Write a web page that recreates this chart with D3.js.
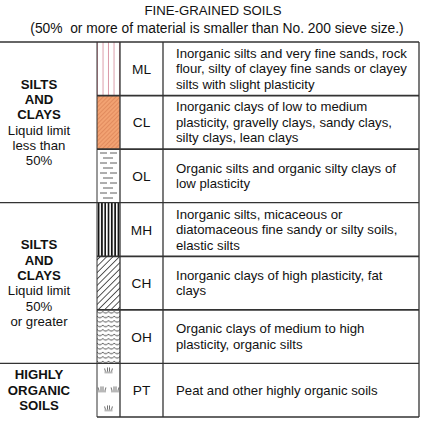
<!DOCTYPE html>
<html><head><meta charset="utf-8">
<script src="https://cdn.jsdelivr.net/npm/d3@7"></script>
<style>body{margin:0;background:#fff}svg{font-family:Arial,"Liberation Sans",sans-serif}text{white-space:pre}</style>
</head><body><svg id="c" width="426" height="423"></svg>
<script>
const title = "FINE-GRAINED SOILS";
const subtitle = "(50%  or more of material is smaller than No. 200 sieve size.)";
const codes = ["ML","CL","OL","MH","CH","OH","PT"];
const descriptions = [
  ["Inorganic silts and very fine sands, rock","flour, silty of clayey fine sands or clayey","silts with slight plasticity"],
  ["Inorganic clays of low to medium","plasticity, gravelly clays, sandy clays,","silty clays, lean clays"],
  ["Organic silts and organic silty clays of","low plasticity"],
  ["Inorganic silts, micaceous or","diatomaceous fine sandy or silty soils,","elastic silts"],
  ["Inorganic clays of high plasticity, fat","clays"],
  ["Organic clays of medium to high","plasticity, organic silts"],
  ["Peat and other highly organic soils"]
];
const groups = [
  {from:0,to:3,bold:["SILTS","AND","CLAYS"],normal:["Liquid limit","less than","50%"]},
  {from:3,to:6,bold:["SILTS","AND","CLAYS"],normal:["Liquid limit","50%","or greater"]},
  {from:6,to:7,bold:["HIGHLY","ORGANIC","SOILS"],normal:[]}
];
const patterns = ["ml","cl","ol","mh","ch","oh","pt"];

const FS = 13.2;
const svg = d3.select("#c");
const y = d3.scaleBand().domain(d3.range(codes.length)).range([42,417]).padding(0);
const X = {left:0, pat:97, code:120, desc:163, right:419};

const defs = svg.append("defs");
let p = defs.append("pattern").attr("id","ml").attr("patternUnits","userSpaceOnUse").attr("width",5.5).attr("height",10).attr("x",X.pat+1);
p.append("line").attr("x1",5).attr("x2",5).attr("y1",0).attr("y2",10).attr("stroke","#c0506a").attr("stroke-width",0.6);
p = defs.append("pattern").attr("id","cl").attr("patternUnits","userSpaceOnUse").attr("width",3).attr("height",3).attr("patternTransform","rotate(45)");
p.append("rect").attr("width",3).attr("height",3).attr("fill","#f2a272");
p.append("line").attr("x1",0).attr("x2",0).attr("y1",0).attr("y2",3).attr("stroke","#c86a40").attr("stroke-width",0.8);
p = defs.append("pattern").attr("id","ol").attr("patternUnits","userSpaceOnUse").attr("width",23).attr("height",10).attr("x",X.pat);
p.append("line").attr("x1",3).attr("x2",10).attr("y1",3).attr("y2",3).attr("stroke","#333").attr("stroke-width",0.8);
p.append("line").attr("x1",13).attr("x2",20).attr("y1",3).attr("y2",3).attr("stroke","#333").attr("stroke-width",0.8);
p.append("line").attr("x1",6).attr("x2",16).attr("y1",8).attr("y2",8).attr("stroke","#333").attr("stroke-width",0.8);
p = defs.append("pattern").attr("id","mh").attr("patternUnits","userSpaceOnUse").attr("width",3.3).attr("height",10).attr("x",X.pat);
p.append("line").attr("x1",1.6).attr("x2",1.6).attr("y1",0).attr("y2",10).attr("stroke","#111").attr("stroke-width",1.7);
p = defs.append("pattern").attr("id","ch").attr("patternUnits","userSpaceOnUse").attr("width",4.5).attr("height",4.5).attr("patternTransform","rotate(45)");
p.append("line").attr("x1",0).attr("x2",0).attr("y1",0).attr("y2",4.5).attr("stroke","#111").attr("stroke-width",1.4);
p = defs.append("pattern").attr("id","oh").attr("patternUnits","userSpaceOnUse").attr("width",5.75).attr("height",4.5).attr("x",X.pat);
p.append("path").attr("d","M0,1 Q2.9,4.5 5.75,1").attr("fill","none").attr("stroke","#222").attr("stroke-width",0.8);
p = defs.append("pattern").attr("id","pt").attr("patternUnits","userSpaceOnUse").attr("width",23).attr("height",54).attr("x",X.pat).attr("y",y(6));
function tuft(g,cx,cy){g.append("path").attr("d",`M${cx-4},${cy} h8 M${cx-3},${cy-1} l-1,-3 M${cx-1},${cy-1} l0,-4 M${cx+1},${cy-1} l0,-4 M${cx+3},${cy-1} l1,-3`).attr("stroke","#333").attr("stroke-width",0.7).attr("fill","none");}
tuft(p,11.5,9); tuft(p,5,28); tuft(p,18,28); tuft(p,11.5,47);

svg.append("text").attr("x",213).attr("y",15).attr("text-anchor","middle").attr("font-size",FS).attr("fill","#111").text(title);
svg.append("text").attr("x",217).attr("y",33).attr("text-anchor","middle").attr("font-size",FS+0.6).attr("fill","#111").text(subtitle);

svg.selectAll("rect.pat").data(patterns).join("rect")
  .attr("x",X.pat).attr("y",(d,i)=>y(i)).attr("width",X.code-X.pat).attr("height",y.bandwidth())
  .attr("fill",d=>`url(#${d})`);

svg.selectAll("text.code").data(codes).join("text").attr("class","code")
  .attr("x",(X.code+X.desc)/2).attr("y",(d,i)=>y(i)+y.bandwidth()/2+5).attr("text-anchor","middle")
  .attr("font-size",FS+0.5).attr("fill","#111").text(d=>d);

descriptions.forEach((lines,i)=>{
  const lh=15.5, y0=y(i)+y.bandwidth()/2-(lines.length-1)*lh/2+4.5;
  const t=svg.append("text").attr("font-size",FS).attr("fill","#111");
  lines.forEach((l,k)=>t.append("tspan").attr("x",176).attr("y",y0+k*lh).text(l));
});

groups.forEach(g=>{
  const all=g.bold.map(s=>({s,b:true})).concat(g.normal.map(s=>({s,b:false})));
  const lh=15.3, mid=(y(g.from)+y(g.to-1)+y.bandwidth())/2;
  const y0=mid-(all.length-1)*lh/2+4.5;
  all.forEach((o,k)=>svg.append("text").attr("x",39).attr("y",y0+k*lh).attr("text-anchor","middle")
    .attr("font-size",FS).attr("font-weight",o.b?"bold":"normal").attr("fill","#111").text(o.s));
});

const L = svg.append("g").attr("stroke","#333").attr("fill","none");
L.append("line").attr("x1",X.left).attr("x2",X.right).attr("y1",42).attr("y2",42).attr("stroke-width",1.5);
d3.range(1,codes.length).forEach(i=>{
  const isGroup = groups.some(g=>g.from===i);
  L.append("line").attr("x1",isGroup?X.left:X.pat).attr("x2",X.right).attr("y1",y(i)).attr("y2",y(i)).attr("stroke-width",isGroup?1.3:1.8);
});
L.append("line").attr("x1",X.pat).attr("x2",X.right).attr("y1",417).attr("y2",417).attr("stroke-width",1.5);
[X.pat,X.code,X.desc,X.right].forEach((x,k)=>L.append("line").attr("x1",x).attr("x2",x).attr("y1",42).attr("y2",417).attr("stroke-width",k===0?1:1.3));
</script></body></html>
